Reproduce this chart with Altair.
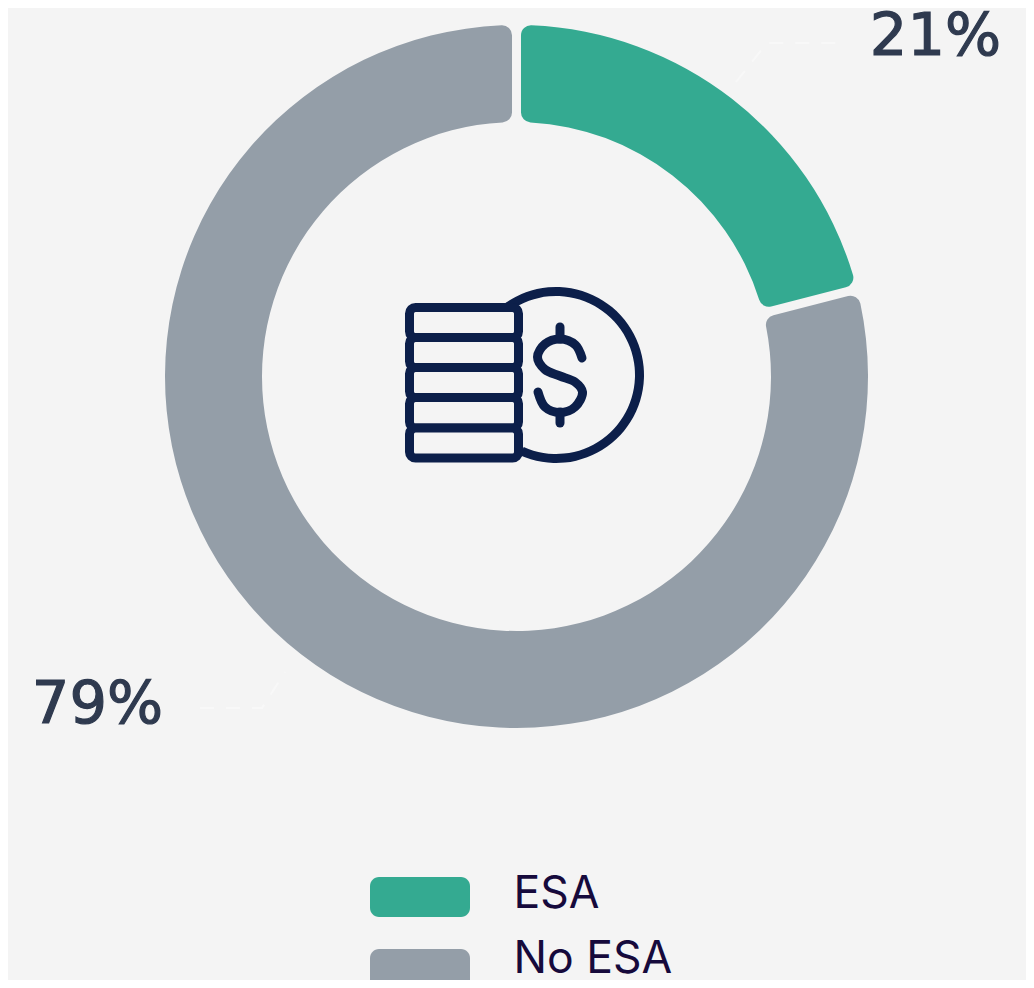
import math
import altair as alt
import pandas as pd

BG = "#f4f4f4"
GREEN = "#34aa91"
GREY = "#949ea8"
NAVY = "#0c1f4a"
LABEL = "#2f3a4f"
LEGEND_TEXT = "#160a3c"

categories = ["ESA", "No ESA"]
shares = [21, 79]
share_start = [0, 21]
share_end = [21, 100]
share_labels = ["21%", "79%"]
label_x = [1001, 163]
label_y = [55, 723]
legend_x1 = [370, 370]
legend_x2 = [470, 470]
legend_y1 = [877, 949]
legend_y2 = [917, 989]
legend_text_x = [513.5, 513.5]
legend_text_y = [908, 973]

leader_x = [736, 767, 847, 200, 262, 285]
leader_y = [82, 43, 43, 708, 708, 672]
leader_id = ["a", "a", "a", "b", "b", "b"]
leader_order = [0, 1, 2, 0, 1, 2]

stack_top = [307.5, 337.5, 367.5, 397.5, 428]
stack_bottom = [337.5, 367.5, 397.5, 428, 458]

coin_start = [90.3]
coin_end = [156.7]

s_x = [582, 575.5, 560, 545, 537.5, 545, 560, 575, 582.5, 575, 560, 545, 538]
s_y = [358, 345, 339, 344, 357, 369.5, 376, 382, 392, 407, 412.5, 407, 392]
s_order = list(range(len(s_x)))
bar_x = [560, 560, 560, 560]
bar_y = [327, 339, 412, 423]
bar_id = ["t", "t", "b", "b"]

xs = alt.Scale(domain=[8, 1026], nice=False, zero=False)
ys = alt.Scale(domain=[980, 8], nice=False, zero=False)
ts = alt.Scale(domain=[0, 200], range=[0, 4 * math.pi])
X = lambda f: alt.X(f, type="quantitative", scale=xs, axis=None)
Y = lambda f: alt.Y(f, type="quantitative", scale=ys, axis=None)

donut_df = pd.DataFrame({"cat": categories, "start": share_start, "end": share_end,
                         "label": share_labels, "lx": label_x, "ly": label_y})
donut = alt.Chart(donut_df).mark_arc(radius=351.5, radius2=254.5, cornerRadius=10, padAngle=0.0207).encode(
    x=alt.datum(516.5, scale=xs, axis=None),
    y=alt.datum(376.5, scale=ys, axis=None),
    theta=alt.Theta("start:Q", scale=ts, stack=None),
    theta2="end:Q",
    color=alt.Color("cat:N", scale=alt.Scale(domain=categories, range=[GREEN, GREY]), legend=None),
)
labels = alt.Chart(donut_df).mark_text(font="DejaVu Sans", fontSize=59, align="right",
                                       baseline="alphabetic", color=LABEL, stroke=LABEL, strokeWidth=1.2).encode(
    x=X("lx"), y=Y("ly"), text="label:N")

leader = alt.Chart(pd.DataFrame({"x": leader_x, "y": leader_y, "id": leader_id, "o": leader_order})).mark_line(
    color="#f8f8f8", strokeWidth=2, strokeDash=[14, 12]).encode(
    x=X("x"), y=Y("y"), detail="id:N", order="o:Q")

coin = alt.Chart(pd.DataFrame({"s": coin_start, "e": coin_end})).mark_arc(
    radius=88, radius2=79, color=NAVY).encode(
    x=alt.datum(556, scale=xs, axis=None), y=alt.datum(375, scale=ys, axis=None),
    theta=alt.Theta("s:Q", scale=ts, stack=None), theta2="e:Q")

stack = alt.Chart(pd.DataFrame({"t": stack_top, "b": stack_bottom})).mark_rect(
    fill=BG, stroke=NAVY, strokeWidth=9, cornerRadius=6).encode(
    x=alt.datum(409.5, scale=xs, axis=None), x2=alt.datum(518.5),
    y=Y("t"), y2="b:Q")

dollar_s = alt.Chart(pd.DataFrame({"x": s_x, "y": s_y, "o": s_order})).mark_line(
    color=NAVY, strokeWidth=9, strokeCap="round", interpolate="catmull-rom").encode(
    x=X("x"), y=Y("y"), order="o:Q")
dollar_bar = alt.Chart(pd.DataFrame({"x": bar_x, "y": bar_y, "id": bar_id})).mark_line(
    color=NAVY, strokeWidth=9, strokeCap="round").encode(
    x=X("x"), y=Y("y"), detail="id:N")

legend_df = pd.DataFrame({"cat": categories, "x1": legend_x1, "x2": legend_x2, "y1": legend_y1, "y2": legend_y2,
                          "tx": legend_text_x, "ty": legend_text_y})
legend_rect = alt.Chart(legend_df).mark_rect(cornerRadius=9, clip=True).encode(
    x=X("x1"), x2="x2:Q", y=Y("y1"), y2="y2:Q",
    color=alt.Color("cat:N", scale=alt.Scale(domain=categories, range=[GREEN, GREY]), legend=None))
legend_text = alt.Chart(legend_df).mark_text(font="Inter", fontSize=44.5, align="left", baseline="alphabetic",
                                             color=LEGEND_TEXT).encode(
    x=X("tx"), y=Y("ty"), text="cat:N")

chart = alt.layer(donut, leader, labels, coin, stack, dollar_s, dollar_bar, legend_rect, legend_text).properties(
    width=1018, height=972, background=BG, padding=0,
    autosize=alt.AutoSizeParams(type="none"),
).configure_view(stroke=None)

chart.save("out.html", embed_options={"renderer": "svg", "actions": False})
